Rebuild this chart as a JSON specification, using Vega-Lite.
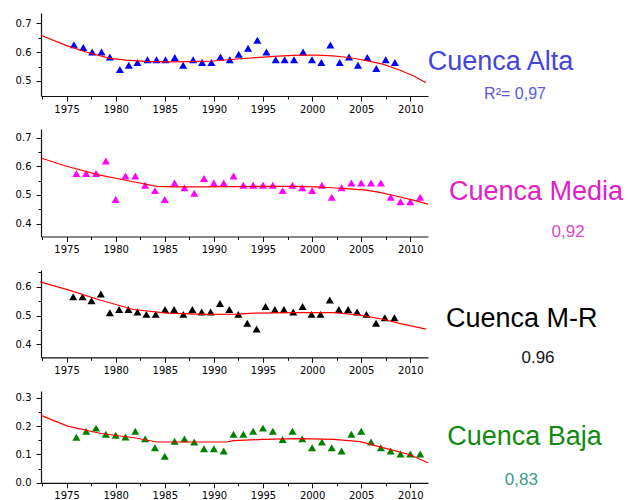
{
  "$schema": "https://vega.github.io/schema/vega-lite/v6.json",
  "background": "white",
  "padding": {"left": 15, "top": 13, "right": 0, "bottom": 0},
  "config": {
    "view": {"stroke": null},
    "axis": {"grid": false, "title": null, "domainColor": "#111", "domainWidth": 1.2, "tickColor": "#111", "tickWidth": 1, "labelColor": "#000", "labelFont": "DejaVu Sans", "labelFontSize": 10, "labelOverlap": false, "labelFlush": false, "labelBound": false}
  },
  "bounds": "flush",
  "spacing": 33,
  "datasets": {
    "alta": [
      {"year": 1975.75, "v": 0.625}, {"year": 1976.70, "v": 0.616}, {"year": 1977.61, "v": 0.600}, {"year": 1978.56, "v": 0.600},
      {"year": 1979.41, "v": 0.583}, {"year": 1980.43, "v": 0.540}, {"year": 1981.34, "v": 0.554}, {"year": 1982.22, "v": 0.564},
      {"year": 1983.24, "v": 0.573}, {"year": 1984.16, "v": 0.573}, {"year": 1985.07, "v": 0.573}, {"year": 1986.02, "v": 0.581},
      {"year": 1986.87, "v": 0.554}, {"year": 1987.89, "v": 0.573}, {"year": 1988.80, "v": 0.564}, {"year": 1989.75, "v": 0.564},
      {"year": 1990.67, "v": 0.583}, {"year": 1991.62, "v": 0.573}, {"year": 1992.53, "v": 0.592}, {"year": 1993.48, "v": 0.613},
      {"year": 1994.43, "v": 0.641}, {"year": 1995.35, "v": 0.600}, {"year": 1996.30, "v": 0.573}, {"year": 1997.21, "v": 0.573},
      {"year": 1998.16, "v": 0.573}, {"year": 1999.08, "v": 0.600}, {"year": 1999.99, "v": 0.573}, {"year": 2000.94, "v": 0.564},
      {"year": 2001.86, "v": 0.624}, {"year": 2002.81, "v": 0.564}, {"year": 2003.76, "v": 0.583}, {"year": 2004.67, "v": 0.554},
      {"year": 2005.62, "v": 0.581}, {"year": 2006.54, "v": 0.543}, {"year": 2007.49, "v": 0.573}, {"year": 2008.43, "v": 0.564}
    ],
    "alta_fit": [
      {"year": 1972.4, "v": 0.658}, {"year": 1975.0, "v": 0.622}, {"year": 1977.0, "v": 0.600}, {"year": 1979.4, "v": 0.578},
      {"year": 1981.1, "v": 0.572}, {"year": 1983.0, "v": 0.568}, {"year": 1985.2, "v": 0.566}, {"year": 1987.5, "v": 0.567},
      {"year": 1989.9, "v": 0.569}, {"year": 1992.0, "v": 0.575}, {"year": 1994.3, "v": 0.581}, {"year": 1996.5, "v": 0.586},
      {"year": 1998.7, "v": 0.589}, {"year": 2000.5, "v": 0.589}, {"year": 2002.1, "v": 0.587}, {"year": 2003.5, "v": 0.582},
      {"year": 2004.8, "v": 0.575}, {"year": 2006.0, "v": 0.567}, {"year": 2007.2, "v": 0.558}, {"year": 2008.9, "v": 0.538},
      {"year": 2010.3, "v": 0.518}, {"year": 2011.6, "v": 0.494}
    ],
    "media": [
      {"year": 1976, "v": 0.575}, {"year": 1977, "v": 0.575}, {"year": 1978, "v": 0.575}, {"year": 1979, "v": 0.618},
      {"year": 1980, "v": 0.484}, {"year": 1981, "v": 0.566}, {"year": 1982, "v": 0.566}, {"year": 1983, "v": 0.534},
      {"year": 1984, "v": 0.515}, {"year": 1985, "v": 0.484}, {"year": 1986, "v": 0.542}, {"year": 1987, "v": 0.525},
      {"year": 1988, "v": 0.506}, {"year": 1989, "v": 0.557}, {"year": 1990, "v": 0.542}, {"year": 1991, "v": 0.542},
      {"year": 1992, "v": 0.566}, {"year": 1993, "v": 0.534}, {"year": 1994, "v": 0.534}, {"year": 1995, "v": 0.534},
      {"year": 1996, "v": 0.534}, {"year": 1997, "v": 0.515}, {"year": 1998, "v": 0.534}, {"year": 1999, "v": 0.525},
      {"year": 2000, "v": 0.515}, {"year": 2001, "v": 0.534}, {"year": 2002, "v": 0.492}, {"year": 2003, "v": 0.525},
      {"year": 2004, "v": 0.542}, {"year": 2005, "v": 0.542}, {"year": 2006, "v": 0.542}, {"year": 2007, "v": 0.542},
      {"year": 2008, "v": 0.492}, {"year": 2009, "v": 0.476}, {"year": 2010, "v": 0.476}, {"year": 2011, "v": 0.492}
    ],
    "media_fit": [
      {"year": 1972.4, "v": 0.629}, {"year": 1975.0, "v": 0.600}, {"year": 1978.4, "v": 0.569}, {"year": 1981.8, "v": 0.546},
      {"year": 1984.2, "v": 0.530}, {"year": 1986.0, "v": 0.528}, {"year": 1988.6, "v": 0.528}, {"year": 1992.0, "v": 0.529},
      {"year": 1995.3, "v": 0.530}, {"year": 1998.0, "v": 0.530}, {"year": 2000.4, "v": 0.528}, {"year": 2002.0, "v": 0.525},
      {"year": 2003.5, "v": 0.522}, {"year": 2005.5, "v": 0.517}, {"year": 2007.0, "v": 0.508}, {"year": 2008.2, "v": 0.499},
      {"year": 2010.3, "v": 0.482}, {"year": 2011.8, "v": 0.468}
    ],
    "mr": [
      {"year": 1975.68, "v": 0.565}, {"year": 1976.63, "v": 0.565}, {"year": 1977.54, "v": 0.551}, {"year": 1978.49, "v": 0.575},
      {"year": 1979.41, "v": 0.510}, {"year": 1980.35, "v": 0.521}, {"year": 1981.30, "v": 0.521}, {"year": 1982.22, "v": 0.512},
      {"year": 1983.13, "v": 0.504}, {"year": 1984.08, "v": 0.504}, {"year": 1985.03, "v": 0.521}, {"year": 1985.95, "v": 0.521},
      {"year": 1986.89, "v": 0.504}, {"year": 1987.81, "v": 0.521}, {"year": 1988.76, "v": 0.512}, {"year": 1989.67, "v": 0.512},
      {"year": 1990.62, "v": 0.542}, {"year": 1991.57, "v": 0.521}, {"year": 1992.49, "v": 0.504}, {"year": 1993.40, "v": 0.473},
      {"year": 1994.35, "v": 0.453}, {"year": 1995.26, "v": 0.531}, {"year": 1996.21, "v": 0.521}, {"year": 1997.13, "v": 0.521},
      {"year": 1998.08, "v": 0.512}, {"year": 1999.03, "v": 0.531}, {"year": 1999.94, "v": 0.504}, {"year": 2000.86, "v": 0.504},
      {"year": 2001.80, "v": 0.554}, {"year": 2002.72, "v": 0.521}, {"year": 2003.67, "v": 0.521}, {"year": 2004.58, "v": 0.512},
      {"year": 2005.53, "v": 0.504}, {"year": 2006.51, "v": 0.473}, {"year": 2007.40, "v": 0.492}, {"year": 2008.38, "v": 0.492}
    ],
    "mr_fit": [
      {"year": 1972.3, "v": 0.617}, {"year": 1975.0, "v": 0.591}, {"year": 1978.4, "v": 0.554}, {"year": 1981.8, "v": 0.521},
      {"year": 1985.2, "v": 0.508}, {"year": 1989.2, "v": 0.504}, {"year": 1992.5, "v": 0.505}, {"year": 1994.0, "v": 0.508},
      {"year": 1998.7, "v": 0.510}, {"year": 2002.1, "v": 0.510}, {"year": 2004.8, "v": 0.502}, {"year": 2007.2, "v": 0.487},
      {"year": 2008.9, "v": 0.473}, {"year": 2011.6, "v": 0.453}
    ],
    "baja": [
      {"year": 1976, "v": 0.161}, {"year": 1977, "v": 0.182}, {"year": 1978, "v": 0.193}, {"year": 1979, "v": 0.171},
      {"year": 1980, "v": 0.168}, {"year": 1981, "v": 0.162}, {"year": 1982, "v": 0.182}, {"year": 1983, "v": 0.155},
      {"year": 1984, "v": 0.124}, {"year": 1985, "v": 0.094}, {"year": 1986, "v": 0.147}, {"year": 1987, "v": 0.155},
      {"year": 1988, "v": 0.144}, {"year": 1989, "v": 0.120}, {"year": 1990, "v": 0.120}, {"year": 1991, "v": 0.112},
      {"year": 1992, "v": 0.171}, {"year": 1993, "v": 0.171}, {"year": 1994, "v": 0.182}, {"year": 1995, "v": 0.193},
      {"year": 1996, "v": 0.182}, {"year": 1997, "v": 0.153}, {"year": 1998, "v": 0.182}, {"year": 1999, "v": 0.155},
      {"year": 2000, "v": 0.124}, {"year": 2001, "v": 0.144}, {"year": 2002, "v": 0.124}, {"year": 2003, "v": 0.112},
      {"year": 2004, "v": 0.171}, {"year": 2005, "v": 0.182}, {"year": 2006, "v": 0.144}, {"year": 2007, "v": 0.124},
      {"year": 2008, "v": 0.112}, {"year": 2009, "v": 0.102}, {"year": 2010, "v": 0.102}, {"year": 2011, "v": 0.102}
    ],
    "baja_fit": [
      {"year": 1972.4, "v": 0.238}, {"year": 1975.1, "v": 0.200}, {"year": 1978.5, "v": 0.174}, {"year": 1981.9, "v": 0.159},
      {"year": 1984.2, "v": 0.144}, {"year": 1988.0, "v": 0.144}, {"year": 1991.3, "v": 0.144}, {"year": 1992.0, "v": 0.149},
      {"year": 1995.0, "v": 0.153}, {"year": 1998.8, "v": 0.156}, {"year": 2002.2, "v": 0.153}, {"year": 2004.9, "v": 0.145},
      {"year": 2007.2, "v": 0.124}, {"year": 2009.9, "v": 0.100}, {"year": 2011.8, "v": 0.071}
    ]
  },
  "vconcat": [
    {
      "width": 387, "height": 83,
      "data": {"name": "alta_fit"},
      "encoding": {
        "x": {"field": "year", "type": "quantitative", "scale": {"domain": [1972.4, 2011.8], "nice": false, "zero": false},
          "axis": {"format": "d", "values": [1972.5, 1975, 1977.5, 1980, 1982.5, 1985, 1987.5, 1990, 1992.5, 1995, 1997.5, 2000, 2002.5, 2005, 2007.5, 2010],
            "labelExpr": "datum.value % 5 === 0 ? datum.label : ''", "tickSize": {"condition": {"test": "datum.value % 5 === 0", "value": 5}, "value": 3}, "labelPadding": 3}},
        "y": {"field": "v", "type": "quantitative", "scale": {"domain": [0.448, 0.735], "nice": false, "zero": false},
          "axis": {"values": [0.5, 0.55, 0.6, 0.65, 0.7],
            "labelExpr": "abs(datum.value*10 - round(datum.value*10)) < 0.001 ? format(datum.value, '.1f') : ''",
            "tickSize": {"condition": {"test": "abs(datum.value*10 - round(datum.value*10)) < 0.001", "value": 5}, "value": 3}, "labelPadding": 5}}
      },
      "layer": [
        {"data": {"name": "alta"}, "mark": {"type": "point", "shape": "triangle-up", "filled": true, "color": "#0000ff", "size": 65, "opacity": 1}},
        {"mark": {"type": "line", "color": "#ff0000", "strokeWidth": 1.2}},
        {"mark": {"type": "text", "font": "Liberation Sans", "fontSize": 27, "color": "#4444dd", "align": "center", "baseline": "alphabetic", "clip": false},
          "encoding": {"x": {"datum": 2019.18, "type": "quantitative"}, "y": {"datum": 0.537, "type": "quantitative"}, "text": {"condition": {"test": "datum.year < 1973", "value": "Cuenca Alta"}, "value": ""}}},
        {"mark": {"type": "text", "font": "Liberation Sans", "fontSize": 16, "color": "#5a5ae0", "align": "center", "baseline": "alphabetic", "clip": false},
          "encoding": {"x": {"datum": 2020.66, "type": "quantitative"}, "y": {"datum": 0.439, "type": "quantitative"}, "text": {"condition": {"test": "datum.year < 1973", "value": "R²= 0,97"}, "value": ""}}}
      ]
    },
    {
      "width": 387, "height": 107.5,
      "data": {"name": "media_fit"},
      "encoding": {
        "x": {"field": "year", "type": "quantitative", "scale": {"domain": [1972.4, 2011.8], "nice": false, "zero": false},
          "axis": {"format": "d", "values": [1972.5, 1975, 1977.5, 1980, 1982.5, 1985, 1987.5, 1990, 1992.5, 1995, 1997.5, 2000, 2002.5, 2005, 2007.5, 2010],
            "labelExpr": "datum.value % 5 === 0 ? datum.label : ''", "tickSize": {"condition": {"test": "datum.value % 5 === 0", "value": 5}, "value": 3}, "labelPadding": 3}},
        "y": {"field": "v", "type": "quantitative", "scale": {"domain": [0.355, 0.73], "nice": false, "zero": false},
          "axis": {"values": [0.4, 0.45, 0.5, 0.55, 0.6, 0.65, 0.7],
            "labelExpr": "abs(datum.value*10 - round(datum.value*10)) < 0.001 ? format(datum.value, '.1f') : ''",
            "tickSize": {"condition": {"test": "abs(datum.value*10 - round(datum.value*10)) < 0.001", "value": 5}, "value": 3}, "labelPadding": 5}}
      },
      "layer": [
        {"data": {"name": "media"}, "mark": {"type": "point", "shape": "triangle-up", "filled": true, "color": "#ff00ff", "size": 65, "opacity": 1}},
        {"mark": {"type": "line", "color": "#ff0000", "strokeWidth": 1.2}},
        {"mark": {"type": "text", "font": "Liberation Sans", "fontSize": 27, "color": "#e020c8", "align": "center", "baseline": "alphabetic", "clip": false},
          "encoding": {"x": {"datum": 2022.8, "type": "quantitative"}, "y": {"datum": 0.484, "type": "quantitative"}, "text": {"condition": {"test": "datum.year < 1973", "value": "Cuenca Media"}, "value": ""}}},
        {"mark": {"type": "text", "font": "Liberation Sans", "fontSize": 17, "color": "#dd44cc", "align": "center", "baseline": "alphabetic", "clip": false},
          "encoding": {"x": {"datum": 2026.06, "type": "quantitative"}, "y": {"datum": 0.3535, "type": "quantitative"}, "text": {"condition": {"test": "datum.year < 1973", "value": "0,92"}, "value": ""}}}
      ]
    },
    {
      "width": 387, "height": 87.3,
      "data": {"name": "mr_fit"},
      "encoding": {
        "x": {"field": "year", "type": "quantitative", "scale": {"domain": [1972.4, 2011.8], "nice": false, "zero": false},
          "axis": {"format": "d", "values": [1972.5, 1975, 1977.5, 1980, 1982.5, 1985, 1987.5, 1990, 1992.5, 1995, 1997.5, 2000, 2002.5, 2005, 2007.5, 2010],
            "labelExpr": "datum.value % 5 === 0 ? datum.label : ''", "tickSize": {"condition": {"test": "datum.value % 5 === 0", "value": 5}, "value": 3}, "labelPadding": 3}},
        "y": {"field": "v", "type": "quantitative", "scale": {"domain": [0.355, 0.658], "nice": false, "zero": false},
          "axis": {"values": [0.4, 0.45, 0.5, 0.55, 0.6, 0.65],
            "labelExpr": "abs(datum.value*10 - round(datum.value*10)) < 0.001 ? format(datum.value, '.1f') : ''",
            "tickSize": {"condition": {"test": "abs(datum.value*10 - round(datum.value*10)) < 0.001", "value": 5}, "value": 3}, "labelPadding": 5}}
      },
      "layer": [
        {"data": {"name": "mr"}, "mark": {"type": "point", "shape": "triangle-up", "filled": true, "color": "#000000", "size": 65, "opacity": 1}},
        {"mark": {"type": "line", "color": "#ff0000", "strokeWidth": 1.2}},
        {"mark": {"type": "text", "font": "Liberation Sans", "fontSize": 27, "color": "#000000", "align": "center", "baseline": "alphabetic", "clip": false},
          "encoding": {"x": {"datum": 2021.34, "type": "quantitative"}, "y": {"datum": 0.4597, "type": "quantitative"}, "text": {"condition": {"test": "datum.year < 1973", "value": "Cuenca M-R"}, "value": ""}}},
        {"mark": {"type": "text", "font": "Liberation Sans", "fontSize": 17, "color": "#111111", "align": "center", "baseline": "alphabetic", "clip": false},
          "encoding": {"x": {"datum": 2023.0, "type": "quantitative"}, "y": {"datum": 0.3347, "type": "quantitative"}, "text": {"condition": {"test": "datum.year < 1973", "value": "0.96"}, "value": ""}}}
      ]
    },
    {
      "width": 387, "height": 91.8,
      "data": {"name": "baja_fit"},
      "encoding": {
        "x": {"field": "year", "type": "quantitative", "scale": {"domain": [1972.4, 2011.8], "nice": false, "zero": false},
          "axis": {"format": "d", "values": [1972.5, 1975, 1977.5, 1980, 1982.5, 1985, 1987.5, 1990, 1992.5, 1995, 1997.5, 2000, 2002.5, 2005, 2007.5, 2010],
            "labelExpr": "datum.value % 5 === 0 ? datum.label : ''", "tickSize": {"condition": {"test": "datum.value % 5 === 0", "value": 5}, "value": 3}, "labelPadding": 3}},
        "y": {"field": "v", "type": "quantitative", "scale": {"domain": [0, 0.324], "nice": false, "zero": false},
          "axis": {"values": [0, 0.05, 0.1, 0.15, 0.2, 0.25, 0.3],
            "labelExpr": "abs(datum.value*10 - round(datum.value*10)) < 0.001 ? format(datum.value, '.1f') : ''",
            "tickSize": {"condition": {"test": "abs(datum.value*10 - round(datum.value*10)) < 0.001", "value": 5}, "value": 3}, "labelPadding": 5}}
      },
      "layer": [
        {"data": {"name": "baja"}, "mark": {"type": "point", "shape": "triangle-up", "filled": true, "color": "#008000", "size": 65, "opacity": 1}},
        {"mark": {"type": "line", "color": "#ff0000", "strokeWidth": 1.2}},
        {"mark": {"type": "text", "font": "Liberation Sans", "fontSize": 27, "color": "#108a10", "align": "center", "baseline": "alphabetic", "clip": false},
          "encoding": {"x": {"datum": 2021.63, "type": "quantitative"}, "y": {"datum": 0.1318, "type": "quantitative"}, "text": {"condition": {"test": "datum.year < 1973", "value": "Cuenca Baja"}, "value": ""}}},
        {"mark": {"type": "text", "font": "Liberation Sans", "fontSize": 17, "color": "#3a9a88", "align": "center", "baseline": "alphabetic", "clip": false},
          "encoding": {"x": {"datum": 2021.3, "type": "quantitative"}, "y": {"datum": -0.0081, "type": "quantitative"}, "text": {"condition": {"test": "datum.year < 1973", "value": "0,83"}, "value": ""}}}
      ]
    }
  ]
}
